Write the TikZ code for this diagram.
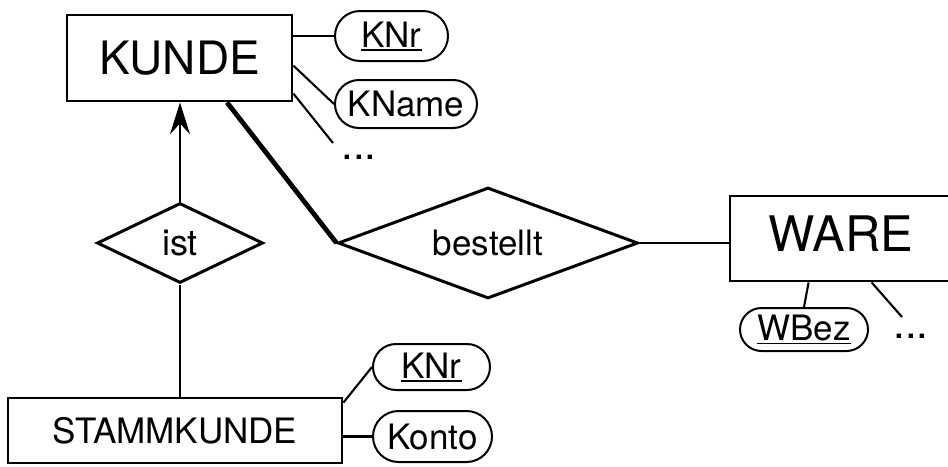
\documentclass[tikz,border=0pt]{standalone}
\usepackage{fontspec}
\setmainfont{TeX Gyre Heros}
\usetikzlibrary{shapes.geometric,shapes.misc,arrows.meta}

% key attribute: text with a rule below it
\newcommand\keyattr[1]{\setbox0\hbox{#1}\rlap{\rule[-3.5pt]{\wd0}{1.4pt}}\box0}

\begin{document}
\begin{tikzpicture}[x=1pt,y=-1pt,
  entity/.style={draw, rectangle, line width=2.8pt, inner sep=0pt},
  relship/.style={draw, diamond, aspect=2, line width=3pt, inner sep=0pt,
    font=\fontsize{35}{40}\selectfont},
  attr/.style={draw, rounded rectangle, line width=2pt, inner sep=0pt,
    font=\fontsize{35}{38}\selectfont},
  etc/.style={inner sep=0pt, font=\fontsize{42}{42}\selectfont},
  link/.style={line width=2.1pt},
  heavy/.style={line width=4.8pt}]

\useasboundingbox (0,0) rectangle (948,466);

% entities
\node[entity, minimum width=225pt, minimum height=86pt,
      font=\fontsize{46}{50}\selectfont] (kunde) at (179.5,58) {KUNDE};
\node[entity, minimum width=222pt, minimum height=85pt, text depth=10pt,
      font=\fontsize{49}{52}\selectfont] (ware) at (841,238.5) {WARE};
\node[entity, minimum width=334pt, minimum height=65pt,
      font=\fontsize{35}{40}\selectfont] (stamm) at (175,430.5) {STAMMKUNDE};

% relationships
\node[relship, minimum width=166pt, minimum height=80pt,
      font=\fontsize{36}{40}\selectfont] (ist) at (180,243) {ist};
\node[relship, minimum width=300pt, minimum height=111pt] (bestellt) at (488,243) {bestellt};

% attributes
\node[attr, minimum width=113pt, minimum height=50pt] (knr1) at (391.5,36) {\keyattr{KNr}};
\node[attr, minimum width=142pt, minimum height=48pt] (kname) at (406,104) {KName};
\node[attr, minimum width=128pt, minimum height=43pt] (wbez) at (804,329.5) {\keyattr{WBez}};
\node[attr, minimum width=117pt, minimum height=46pt] (knr2) at (431.5,367) {\keyattr{KNr}};
\node[attr, minimum width=119pt, minimum height=51pt] (konto) at (432.5,436.5) {Konto};

% further attributes left out
\coordinate (more1) at (333,143);
\coordinate (more2) at (902,317);
\node[etc] (etc1) at (359,157) {...};
\node[etc] (etc2) at (911,336) {...};

% connectors
\draw[link] (knr1.west) -- (knr1.west -| kunde.east);
\draw[link] ([yshift=-52pt]kunde.north east) -- (kname.west);
\draw[link] ([yshift=-80pt]kunde.north east) -- (more1);
\draw[heavy] ([xshift=47.5pt]kunde.south) -- (bestellt.west);
\draw[link, -{Stealth[length=32pt,width=20pt,inset=11pt]}]
  (ist.north) -- (ist.north |- kunde.south);
\draw[link] (ist.south) -- (ist.south |- stamm.north);
\draw[link] (bestellt.east) -- (bestellt.east -| ware.west);
\draw[link] ([xshift=80pt]ware.south west) -- (wbez.north);
\draw[link] ([xshift=143pt]ware.south west) -- (more2);
\draw[link] ([yshift=-6pt]stamm.north east) -- (knr2.west);
\draw[link] (konto.west) -- (konto.west -| stamm.east);
\end{tikzpicture}
\end{document}
